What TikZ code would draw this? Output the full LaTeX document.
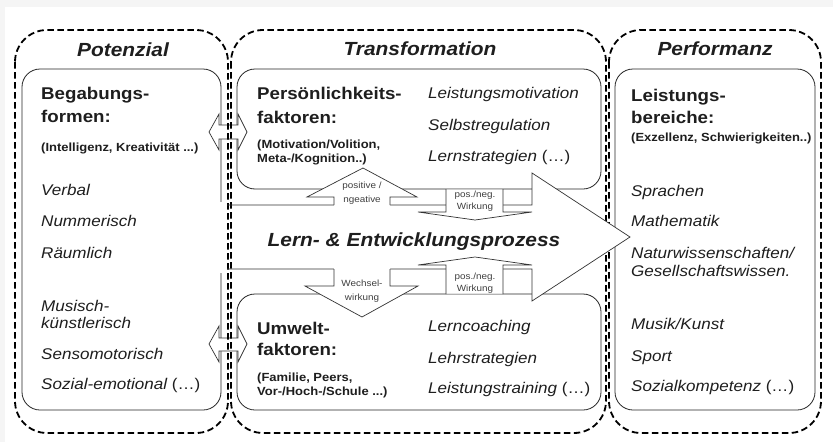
\documentclass[tikz,border=0pt]{standalone}
\usepackage{fontspec}
\setmainfont{Liberation Sans}[FakeStretch=1.1]
\definecolor{txt}{HTML}{1E1E1E}
\begin{document}
\begin{tikzpicture}[x=1pt,y=-1pt,
  dbox/.style={draw=black, line width=1.8pt, dash pattern=on 6.5pt off 3.5pt, rounded corners=32pt},
  sbox/.style={draw=black!85, line width=0.8pt, rounded corners=18pt},
  arr/.style={draw=black!80, line width=0.7pt, line join=miter},
  ttl/.style={font=\fontsize{19}{22}\selectfont\bfseries\itshape, text=txt, inner sep=0pt, anchor=base},
  hdr/.style={font=\fontsize{17}{20}\selectfont\bfseries, text=txt, inner sep=0pt, anchor=base west},
  par/.style={font=\fontsize{11.8}{14}\selectfont\bfseries, text=txt, inner sep=0pt, anchor=base west},
  itm/.style={font=\fontsize{15.5}{18}\selectfont\itshape, text=txt, inner sep=0pt, anchor=base west},
  sml/.style={font=\fontsize{9}{10}\selectfont, text=black!75, inner sep=0pt, anchor=base}]
\useasboundingbox (0,0) rectangle (833,442);
\fill[black!4] (0,0) rectangle (833,442);
\fill[white] (5,7) rectangle (833,442);

% solid boxes
\draw[sbox] (22,69) rectangle (221,410);
\draw[sbox] (237,69) rectangle (601,189);
\draw[sbox] (237,294) rectangle (601,410);
\draw[sbox] (615,69) rectangle (815,410);
% gap in the Begabung box edge where the process arrow starts
\fill[white] (216,202) rectangle (226.5,273);

% double arrows
\filldraw[arr, fill=white] (209,132) -- (219,114) -- (219,125) -- (238,125) -- (238,114) -- (247,132)
  -- (238,150) -- (238,139) -- (219,139) -- (219,150) -- cycle;
\filldraw[arr, fill=white] (209,344) -- (219,326) -- (219,338) -- (238,338) -- (238,326) -- (247,344)
  -- (238,362) -- (238,351) -- (219,351) -- (219,362) -- cycle;

% dashed regions
\draw[dbox] (15,30) rectangle (228,433);
\draw[dbox] (231,30) rectangle (606,433);
\draw[dbox] (609,30) rectangle (821,433);

% big process arrow
\fill[white] (232.8,205) -- (532,205) -- (532,173) -- (630,237) -- (532,301) -- (532,269) -- (232.8,269) -- cycle;
\draw[arr] (227,205) -- (532,205) -- (532,173) -- (630,237) -- (532,301) -- (532,269) -- (227,269);

% small arrows
\fill[white] (334,206) -- (334,197) -- (307,197) -- (363,168) -- (417,197) -- (390,197) -- (390,206) -- cycle;
\draw[arr] (334,205) -- (334,197) -- (307,197) -- (363,168) -- (417,197) -- (390,197) -- (390,205);

\fill[white] (446,189.5) -- (446,212) -- (418,212) -- (475,220) -- (532,212) -- (503,212) -- (503,189.5) -- cycle;
\draw[arr] (446,189) -- (446,212) -- (418,212) -- (475,220) -- (532,212) -- (503,212) -- (503,189);

\fill[white] (334,268) -- (334,286) -- (305,286) -- (362,317) -- (418,286) -- (390,286) -- (390,268) -- cycle;
\draw[arr] (334,269) -- (334,286) -- (305,286) -- (362,317) -- (418,286) -- (390,286) -- (390,269);

\fill[white] (446,293.5) -- (446,265) -- (418,265) -- (475,257) -- (532,265) -- (503,265) -- (503,293.5) -- cycle;
\draw[arr] (446,294) -- (446,265) -- (418,265) -- (475,257) -- (532,265) -- (503,265) -- (503,294);

% titles
\node[ttl] (tpot) at (123,56) {Potenzial};
\node[ttl] (ttra) at (420,55) {Transformation};
\node[ttl] (tper) at (715,55) {Performanz};
\node[ttl] (tlern) at (414,246) {Lern- \& Entwicklungsprozess};

% Potenzial column
\node[hdr] (b1) at (41,99) {Begabungs-};
\node[hdr] (b2) at (41,122) {formen:};
\node[par] (b3) at (41,151) {(Intelligenz, Kreativität ...)};
\node[itm] (b4) at (41,195) {Verbal};
\node[itm] (b5) at (41,226) {Nummerisch};
\node[itm] (b6) at (41,258) {Räumlich};
\node[itm] (b7) at (41,311) {Musisch-};
\node[itm] (b8) at (41,328) {künstlerisch};
\node[itm] (b9) at (41,359) {Sensomotorisch};
\node[itm] (b10) at (41,389) {Sozial-emotional \upshape(…)};

% Persoenlichkeit
\node[hdr] (p1) at (257,99) {Persönlichkeits-};
\node[hdr] (p2) at (257,123) {faktoren:};
\node[par] (p3) at (257,148) {(Motivation/Volition,};
\node[par] (p4) at (257,162) {Meta-/Kognition..)};
\node[itm] (p5) at (428,98) {Leistungsmotivation};
\node[itm] (p6) at (428,130) {Selbstregulation};
\node[itm] (p7) at (428,161) {Lernstrategien \upshape(…)};

% Umwelt
\node[hdr] (u1) at (257,334) {Umwelt-};
\node[hdr] (u2) at (257,355) {faktoren:};
\node[par] (u3) at (257,381) {(Familie, Peers,};
\node[par] (u4) at (257,395) {Vor-/Hoch-/Schule ...)};
\node[itm] (u5) at (428,331) {Lerncoaching};
\node[itm] (u6) at (428,363) {Lehrstrategien};
\node[itm] (u7) at (428,393) {Leistungstraining \upshape(…)};

% Performanz
\node[hdr] (l1) at (631,101) {Leistungs-};
\node[hdr] (l2) at (631,123) {bereiche:};
\node[par] (l3) at (631,141) {(Exzellenz, Schwierigkeiten..)};
\node[itm] (l4) at (631,196) {Sprachen};
\node[itm] (l5) at (631,226) {Mathematik};
\node[itm] (l6) at (631,258) {Naturwissenschaften/};
\node[itm] (l7) at (631,276) {Gesellschaftswissen.};
\node[itm] (l8) at (631,329) {Musik/Kunst};
\node[itm] (l9) at (631,361) {Sport};
\node[itm] (l10) at (631,391) {Sozialkompetenz \upshape(…)};

% small arrow labels
\node[sml] (s1) at (362,188) {positive /};
\node[sml] (s2) at (362,202) {ngeative};
\node[sml] (s3) at (475,197) {pos./neg.};
\node[sml] (s4) at (475,209) {Wirkung};
\node[sml] (s5) at (362,286) {Wechsel-};
\node[sml] (s6) at (362,300) {wirkung};
\node[sml] (s7) at (475,279) {pos./neg.};
\node[sml] (s8) at (475,291) {Wirkung};
\end{tikzpicture}
\end{document}
